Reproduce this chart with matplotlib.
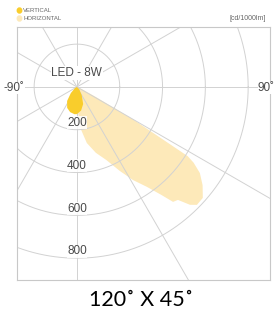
import matplotlib
matplotlib.use("Agg")
import matplotlib.pyplot as plt
import numpy as np

# luminous intensity [cd/1000lm], angle 0 = straight down, + = to the right
vert_angles = [-90, -60, -45, -35, -25, -15, -5, 0, 10, 20, 30, 45, 60, 90]
vert_values = [0, 10, 40, 80, 108, 122, 128, 127, 112, 85, 45, 15, 0, 0]

horiz_angles = [-90, -30, -10, 0, 3, 5, 10, 16, 22, 27, 31, 35, 38, 39.9, 41.8,
                43.8, 45.5, 48.6, 52, 55, 57, 58, 60, 62, 65, 90]
horiz_values = [0, 0, 40, 90, 130, 195, 266, 320, 369, 440, 507, 570, 640, 700, 708,
                763, 786, 784, 745, 701, 650, 610, 300, 100, 30, 0]

ring_values = [200, 400, 600, 800]
ring_labels = ['200', '400', '600', '800']

C_VERT = '#f9cd2c'
C_HORIZ = '#fde9b9'
GRID = '#d2d2d2'
TXT = '#4a4a4a'
FONT = ['Liberation Sans', 'DejaVu Sans']


def to_xy(ang, val):
    a = np.radians(ang)
    v = np.asarray(val, dtype=float)
    return v * np.sin(a), -v * np.cos(a)


fig = plt.figure(figsize=(2.76, 3.13), dpi=100)
ax = fig.add_axes([17 / 276, 33 / 313, 253 / 276, 253 / 313])
ax.set_xlim(-280, 902)
ax.set_ylim(-902, 280)
ax.set_aspect('auto')
ax.set_xticks([])
ax.set_yticks([])
for s in ax.spines.values():
    s.set_color('#c8c8c8')
    s.set_linewidth(0.8)

# grid: rings and spokes
t = np.linspace(0, 2 * np.pi, 400)
for r in ring_values:
    ax.plot(r * np.cos(t), r * np.sin(t), color=GRID, lw=0.7, zorder=2)
for a in range(0, 180, 30):
    x, y = to_xy([a, a + 180], [2000, 2000])
    ax.plot(x, y, color=GRID, lw=0.7, zorder=2)

# distributions
hx, hy = to_xy(horiz_angles, horiz_values)
ax.fill(hx, hy, color=C_HORIZ, lw=0, zorder=1)
vx, vy = to_xy(vert_angles, vert_values)
ax.fill(vx, vy, color=C_VERT, lw=0, zorder=3)

# ring labels
for r, lab in zip(ring_values, ring_labels):
    ax.text(0, -r + 32, lab, ha='center', va='center', fontsize=8.5, color=TXT,
            family=FONT, zorder=4,
            bbox=dict(facecolor='white', edgecolor='none', pad=0.3, alpha=0.85))

ax.text(0, 65, 'LED - 8W', ha='center', va='center', fontsize=8.5, color=TXT,
        family=FONT, zorder=4,
        bbox=dict(facecolor='white', edgecolor='none', pad=0.5))

# angle labels
fig.text(4 / 276, 1 - 88 / 313, '-90˚', ha='left', va='center', fontsize=8.5,
         color=TXT, family=FONT,
         bbox=dict(facecolor='white', edgecolor='none', pad=0.3))
fig.text(275 / 276, 1 - 88 / 313, '90˚', ha='right', va='center', fontsize=8.5,
         color=TXT, family=FONT,
         bbox=dict(facecolor='white', edgecolor='none', pad=0.3))

# legend
fig.text(23 / 276, 1 - 10.5 / 313, 'VERTICAL', ha='left', va='center',
         fontsize=4.3, color='#666666', family=FONT)
fig.text(23 / 276, 1 - 18.5 / 313, 'HORIZONTAL', ha='left', va='center',
         fontsize=4.3, color='#666666', family=FONT)
fig.patches.append(plt.Circle((19.5 / 276, 1 - 10.5 / 313), 0.008, color=C_VERT,
                              transform=fig.transFigure, figure=fig))
fig.patches.append(plt.Circle((19.5 / 276, 1 - 18.5 / 313), 0.008, color=C_HORIZ,
                              transform=fig.transFigure, figure=fig))
fig.text(266 / 276, 1 - 18 / 313, '[cd/1000lm]', ha='right', va='center',
         fontsize=5, color='#666666', family=FONT)

# caption
fig.text(141 / 276, 1 - 300 / 313, '120˚ X 45˚', ha='center', va='center',
         fontsize=15.5, color='black', family=['Lato', 'DejaVu Sans'])

fig.savefig('out.png', dpi=100)
